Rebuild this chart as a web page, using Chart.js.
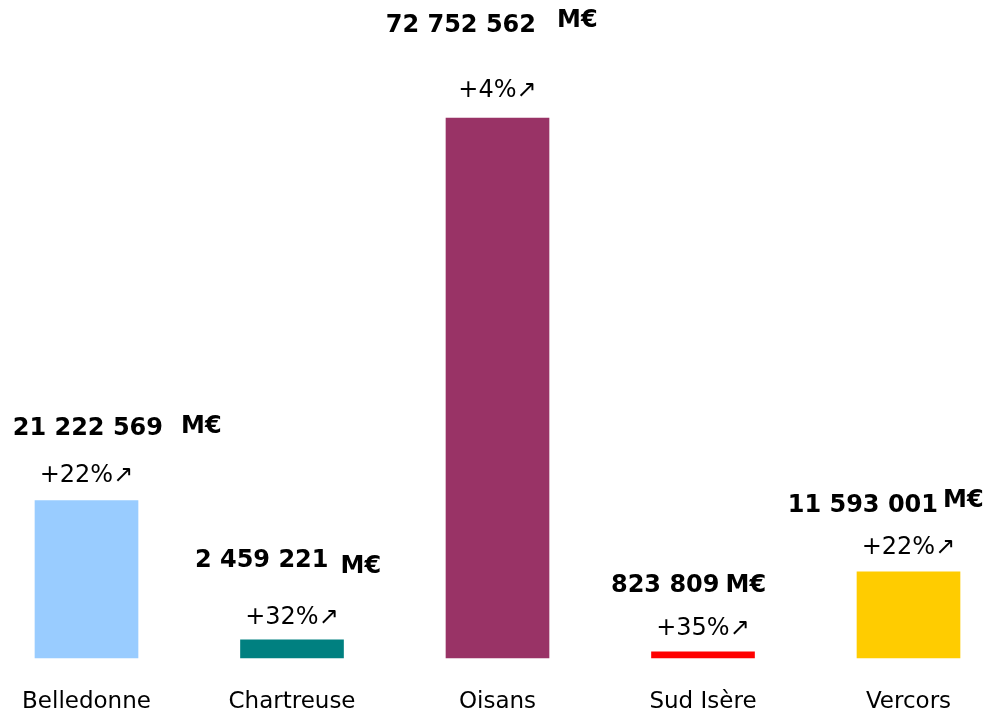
<!DOCTYPE html>
<html>
<head>
<meta charset="utf-8">
<script src="https://cdn.jsdelivr.net/npm/chart.js@4/dist/chart.umd.min.js"></script>
<style>
    body { margin: 0; background: #fff; }
    #wrap { width: 986px; height: 712px; position: relative; }
</style>
</head>
<body>
<div id="wrap"><canvas id="massifs"></canvas></div>
<script>
// data
const massifs = ['Belledonne', 'Chartreuse', 'Oisans', 'Sud Isère', 'Vercors'];
const montants = [21222569, 2459221, 72752562, 823809, 11593001];
const evolutions = [22, 32, 4, 35, 22];
const couleurs = ['#99CCFF', '#008080', '#993366', '#FF0000', '#FFCC00'];

// where the labels sit, relative to the top of each bar (rx = right edge of the number)
const labelPos = [
    { rx: 76.5, dy: -72, gap: 18, mdy: -2, pdy: -25 },
    { rx: 36.5, dy: -78.5, gap: 12, mdy: 6, pdy: -22 },
    { rx: 38.5, dy: -92, gap: 21, mdy: -5, pdy: -27 },
    { rx: 16.5, dy: -66, gap: 6, mdy: 0, pdy: -23 },
    { rx: 29.5, dy: -66, gap: 5, mdy: -5, pdy: -24 }
];

function formatMontant(v) {
    return String(v).replace(/\B(?=(\d{3})+(?!\d))/g, ' ');
}

const barLabels = {
    id: 'barLabels',
    afterDatasetsDraw(chart) {
        const ctx = chart.ctx;
        const bars = chart.getDatasetMeta(0).data;
        ctx.save();
        ctx.fillStyle = '#000';
        ctx.textBaseline = 'middle';
        bars.forEach((bar, i) => {
            const p = labelPos[i];
            // montant
            ctx.font = 'bold 24px "DejaVu Sans"';
            ctx.textAlign = 'right';
            ctx.fillText(formatMontant(montants[i]), bar.x + p.rx, bar.y + p.dy);
            ctx.textAlign = 'left';
            ctx.fillText('M€', bar.x + p.rx + p.gap, bar.y + p.dy + p.mdy);
            // evolution
            ctx.font = '24px "DejaVu Sans"';
            ctx.textAlign = 'center';
            ctx.fillText('+' + evolutions[i] + '%↗', bar.x, bar.y + p.pdy);
        });
        ctx.restore();
    }
};

new Chart(document.getElementById('massifs'), {
    type: 'bar',
    data: {
        labels: massifs,
        datasets: [{
            data: montants,
            backgroundColor: couleurs,
            borderWidth: 0,
            barThickness: 103,
            clip: false
        }]
    },
    options: {
        responsive: true,
        maintainAspectRatio: false,
        animation: false,
        layout: { padding: { left: 86.5, right: 77.5, top: 0, bottom: 0 } },
        plugins: {
            legend: { display: false },
            tooltip: { enabled: false }
        },
        scales: {
            x: {
                offset: false,
                grid: { display: false, drawTicks: false },
                border: { display: false },
                ticks: {
                    color: '#000',
                    padding: 30,
                    maxRotation: 0,
                    font: { family: '"DejaVu Sans"', size: 23 }
                },
                afterFit(scale) {
                    scale.height = 54;
                    scale.paddingLeft = 0;
                    scale.paddingRight = 0;
                }
            },
            y: {
                display: false,
                min: 0,
                max: 88650000
            }
        }
    },
    plugins: [barLabels]
});
</script>
</body>
</html>
